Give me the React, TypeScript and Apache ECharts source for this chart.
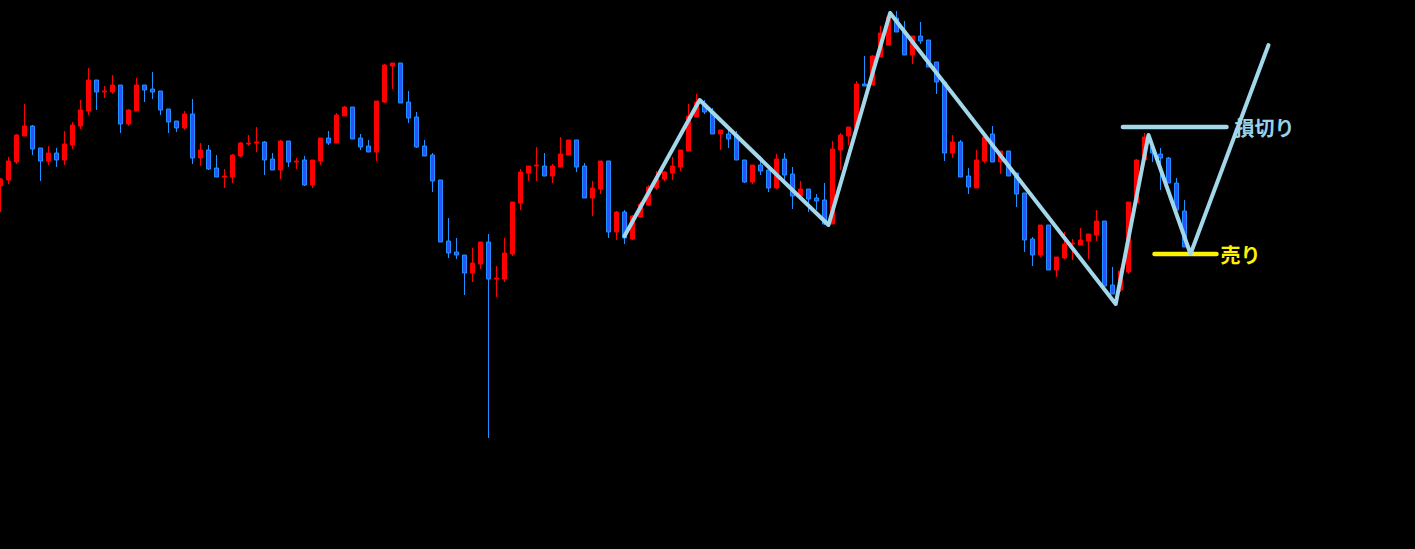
import React, { useEffect, useRef } from "react";
import * as echarts from "echarts";

// OHLC candles, one per period: [open, close, low, high]
const candles: number[][] = [
  [414, 421, 388, 422], [420, 439, 416, 443], [438, 465, 436, 466], [464, 474, 464, 496],
  [474, 451, 445, 475], [452, 439, 419, 452], [439, 447, 435, 454], [447, 440, 433, 452],
  [440, 456, 435, 469], [455, 475, 451, 478], [474, 490, 471, 500], [489, 520, 485, 532],
  [520, 508, 490, 520], [508, 509, 502, 514], [508, 515, 506, 525], [515, 476, 467, 515],
  [476, 490, 474, 491], [489, 515, 489, 522], [515, 510, 498, 515], [511, 508, 501, 528],
  [509, 490, 485, 509], [491, 478, 467, 491], [479, 472, 468, 479], [472, 486, 470, 489],
  [486, 442, 436, 501], [442, 450, 434, 457], [450, 431, 430, 455], [432, 423, 423, 445],
  [423, 424, 412, 431], [423, 445, 417, 446], [444, 457, 443, 458], [456, 457, 454, 465],
  [457, 458, 448, 473], [458, 440, 425, 459], [441, 430, 430, 447], [430, 459, 421, 460],
  [459, 438, 433, 459], [438, 439, 431, 442], [440, 415, 414, 444], [415, 440, 412, 440],
  [439, 462, 435, 462], [462, 457, 455, 469], [457, 485, 457, 487], [484, 493, 484, 494],
  [493, 461, 461, 493], [462, 453, 450, 466], [454, 448, 448, 460], [448, 499, 439, 499],
  [498, 535, 497, 536], [534, 537, 511, 537], [537, 497, 497, 537], [498, 482, 477, 509],
  [483, 453, 452, 488], [454, 444, 444, 460], [445, 419, 408, 447], [420, 358, 358, 420],
  [359, 347, 342, 382], [348, 345, 341, 362], [345, 327, 305, 345], [327, 337, 318, 352],
  [336, 358, 331, 358], [358, 321, 162, 366], [321, 322, 303, 334], [321, 347, 318, 362],
  [346, 398, 344, 398], [397, 428, 390, 431], [427, 434, 419, 434], [434, 435, 419, 453],
  [434, 424, 424, 447], [424, 434, 417, 436], [433, 446, 433, 463], [445, 460, 445, 460],
  [460, 433, 428, 460], [434, 402, 402, 437], [402, 412, 384, 419], [411, 439, 406, 439],
  [439, 368, 362, 439], [368, 388, 360, 389], [388, 362, 356, 390], [361, 384, 360, 385],
  [383, 396, 382, 398], [395, 413, 394, 415], [412, 421, 410, 429], [421, 428, 419, 429],
  [427, 434, 420, 443], [433, 450, 429, 450], [449, 484, 449, 496], [483, 498, 483, 506],
  [496, 488, 486, 500], [488, 466, 466, 492], [466, 470, 450, 470], [466, 461, 452, 470],
  [465, 440, 440, 469], [440, 418, 417, 440], [418, 435, 416, 435], [435, 429, 425, 444],
  [430, 412, 408, 430], [412, 441, 411, 446], [441, 425, 420, 447], [426, 404, 391, 433],
  [404, 411, 404, 419], [411, 401, 388, 411], [402, 399, 390, 406], [400, 376, 375, 417],
  [376, 451, 376, 459], [450, 465, 430, 467], [464, 473, 455, 473], [472, 516, 472, 519],
  [516, 514, 514, 544], [515, 544, 515, 545], [543, 567, 543, 574], [555, 583, 555, 587],
  [582, 568, 568, 589], [568, 545, 545, 579], [545, 564, 536, 564], [564, 559, 556, 578],
  [560, 533, 533, 560], [538, 518, 506, 538], [518, 447, 439, 518], [447, 458, 442, 465],
  [458, 423, 423, 460], [424, 413, 406, 432], [412, 440, 412, 450], [439, 463, 437, 463],
  [466, 438, 438, 474], [438, 449, 426, 449], [449, 424, 424, 449], [427, 406, 393, 427],
  [407, 360, 348, 407], [361, 345, 334, 363], [345, 375, 343, 375], [375, 330, 330, 375],
  [330, 343, 323, 343], [342, 356, 341, 368], [356, 357, 340, 361], [355, 360, 355, 372],
  [359, 366, 341, 366], [365, 379, 359, 390], [379, 314, 314, 379], [315, 306, 306, 333],
  [310, 329, 308, 332], [328, 398, 326, 398], [397, 440, 396, 441], [440, 463, 440, 467],
  [453, 447, 438, 453], [446, 442, 410, 452], [442, 417, 417, 443], [417, 390, 390, 422],
  [389, 353, 353, 400],
];

// total periods on the axis (candles plus empty future periods)
const periodCount = 177;
const categories: string[] = Array.from({ length: periodCount }, (_, i) => String(i + 1));

// zigzag wave points: [period index, price]
const zigzag: number[][] = [
  [78.0, 364], [87.4, 500], [103.5, 375], [111.2, 587],
  [139.4, 296], [143.5, 465], [148.75, 346], [158.5, 555],
];

// stop-loss level and sell level: [period index, price]
const stopLoss: number[][] = [[140.3, 473], [153.25, 473]];
const sellLevel: number[][] = [[144.25, 346], [152.0, 346]];

const stopLossLabel = "損切り";
const sellLabel = "売り";

export default function App() {
  const ref = useRef<HTMLDivElement>(null);

  useEffect(() => {
    if (!ref.current) return;
    const chart = echarts.init(ref.current, undefined, { renderer: "svg" });
    const labelFont = {
      fontSize: 20,
      fontWeight: "bold" as const,
      fontFamily: "'Noto Sans CJK JP', sans-serif",
    };
    chart.setOption({
      animation: false,
      backgroundColor: "#000000",
      grid: { left: 0.5, top: 0, width: 1408, height: 549, containLabel: false },
      xAxis: [
        {
          type: "category",
          data: categories,
          boundaryGap: false,
          show: false,
        },
        {
          type: "value",
          min: 0,
          max: periodCount - 1,
          show: false,
        },
      ],
      yAxis: {
        type: "value",
        min: 51,
        max: 600,
        show: false,
        splitLine: { show: false },
      },
      series: [
        {
          type: "candlestick",
          xAxisIndex: 0,
          data: candles,
          barWidth: 5,
          itemStyle: {
            color: "#ff0000",
            color0: "#3050ff",
            borderColor: "#ff0000",
            borderColor0: "#1e90ff",
            borderWidth: 1,
          },
        },
        {
          type: "line",
          xAxisIndex: 1,
          data: stopLoss,
          showSymbol: false,
          symbol: "none",
          lineStyle: { color: "#a3d8ea", width: 4.5, cap: "round" },
          endLabel: {
            show: true,
            formatter: stopLossLabel,
            color: "#97d2ea",
            distance: 8,
            ...labelFont,
          },
        },
        {
          type: "line",
          xAxisIndex: 1,
          data: sellLevel,
          showSymbol: false,
          symbol: "none",
          lineStyle: { color: "#fff200", width: 4.5, cap: "round" },
          endLabel: {
            show: true,
            formatter: sellLabel,
            color: "#fff200",
            distance: 4,
            ...labelFont,
          },
        },
        {
          type: "line",
          xAxisIndex: 1,
          data: zigzag,
          showSymbol: false,
          symbol: "none",
          lineStyle: { color: "#a3d8ea", width: 4, cap: "round", join: "round" },
          z: 5,
        },
      ],
    });
    return () => chart.dispose();
  }, []);

  return (
    <div
      ref={ref}
      style={{
        position: "fixed",
        left: 0,
        top: 0,
        width: 1415,
        height: 549,
        background: "#000",
      }}
    />
  );
}
